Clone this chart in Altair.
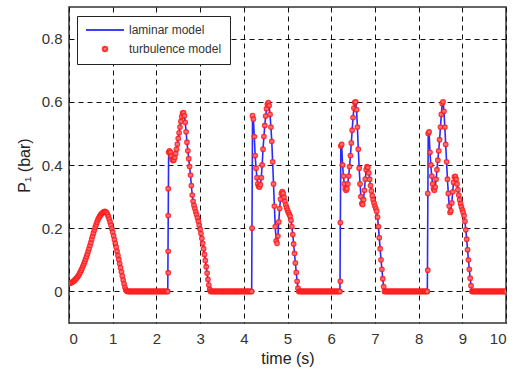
import altair as alt
import numpy as np
import pandas as pd

# ---------------- data ----------------
series_names = ["laminar model", "turbulence model"]
series_colors = ["#2a2aff", "#ff1f1f"]
legend_shapes = ["M-8.5,0H8.5", "circle"]

x_ticks = list(range(0, 11))
y_ticks = [0, 0.2, 0.4, 0.6, 0.8]

dt = 0.02          # sampling step of the simulation output (s)
t_end = 10.0

pulse1_start = 0.00
pulse1 = [0.025, 0.026, 0.027, 0.028, 0.030, 0.032, 0.034, 0.037, 0.040, 0.043,
          0.047, 0.051, 0.056, 0.061, 0.067, 0.073, 0.080, 0.087, 0.094, 0.102,
          0.110, 0.118, 0.127, 0.136, 0.145, 0.155, 0.165, 0.175, 0.185, 0.194,
          0.203, 0.211, 0.219, 0.226, 0.232, 0.237, 0.241, 0.245, 0.248, 0.250,
          0.252, 0.253, 0.252, 0.249, 0.244, 0.237, 0.229, 0.220, 0.210, 0.199,
          0.188, 0.176, 0.164, 0.152, 0.140, 0.127, 0.114, 0.101, 0.088, 0.075,
          0.062, 0.049, 0.036, 0.024, 0.013, 0.005, 0.001, 0.000]

pulse2_start = 2.28
pulse2 = [0.440, 0.445, 0.440, 0.428, 0.418, 0.414, 0.416, 0.424, 0.436, 0.450,
          0.466, 0.484, 0.502, 0.520, 0.538, 0.553, 0.564, 0.566, 0.556, 0.535,
          0.505, 0.472, 0.445, 0.420, 0.395, 0.368, 0.335, 0.305, 0.285, 0.272,
          0.262, 0.252, 0.243, 0.233, 0.222, 0.210, 0.197, 0.183, 0.168, 0.152,
          0.135, 0.117, 0.098, 0.078, 0.058, 0.038, 0.020, 0.006, 0.000]

pulse3_start = 4.20
pulse3 = [0.556, 0.545, 0.490, 0.430, 0.390, 0.360, 0.340, 0.332, 0.330, 0.338,
          0.360, 0.400, 0.450, 0.490, 0.525, 0.555, 0.578, 0.592, 0.597, 0.588,
          0.560, 0.520, 0.475, 0.410, 0.340, 0.270, 0.205, 0.160, 0.152, 0.175,
          0.220, 0.262, 0.292, 0.310, 0.316, 0.310, 0.298, 0.285, 0.274, 0.265,
          0.257, 0.250, 0.244, 0.238, 0.225, 0.205, 0.180, 0.150, 0.120, 0.090,
          0.060, 0.032, 0.010, 0.000]

pulse4_start = 6.22
pulse4 = [0.460, 0.465, 0.400, 0.365, 0.340, 0.325, 0.320, 0.325, 0.340, 0.365,
          0.395, 0.430, 0.470, 0.510, 0.550, 0.580, 0.598, 0.600, 0.575, 0.520,
          0.450, 0.390, 0.340, 0.300, 0.278, 0.275, 0.290, 0.320, 0.355, 0.385,
          0.395, 0.392, 0.375, 0.355, 0.335, 0.318, 0.303, 0.290, 0.280, 0.270,
          0.262, 0.254, 0.235, 0.205, 0.170, 0.135, 0.100, 0.070, 0.040, 0.015,
          0.000]

pulse5_start = 8.22
pulse5 = [0.500, 0.505, 0.440, 0.400, 0.365, 0.340, 0.325, 0.320, 0.330, 0.355,
          0.385, 0.415, 0.445, 0.480, 0.520, 0.560, 0.595, 0.600, 0.570, 0.520,
          0.465, 0.410, 0.355, 0.310, 0.270, 0.250, 0.255, 0.280, 0.315, 0.345,
          0.362, 0.364, 0.355, 0.340, 0.322, 0.305, 0.290, 0.278, 0.268, 0.258,
          0.250, 0.240, 0.222, 0.195, 0.165, 0.132, 0.100, 0.070, 0.042, 0.018,
          0.000]

# turbulence-model samples caught on the steep valve-opening fronts
jump_times = [2.27, 4.19, 6.21, 8.21]
jump_values = [[0.059, 0.127, 0.240, 0.325], [0.200], [0.032, 0.218], [0.067, 0.310]]

# ---------------- build tables ----------------
n = int(round(t_end / dt)) + 1
grid = np.round(np.arange(n) * dt, 4)
vals = np.zeros(n)  # flat parts of the trace sit at 0 bar
for start, seg in [(pulse1_start, pulse1), (pulse2_start, pulse2), (pulse3_start, pulse3),
                   (pulse4_start, pulse4), (pulse5_start, pulse5)]:
    i0 = int(round(start / dt))
    vals[i0:i0 + len(seg)] = seg

lam_df = pd.DataFrame({"t": grid, "p": vals, "series": series_names[0]})

jt, jv = [], []
for tj, vs in zip(jump_times, jump_values):
    for v in vs:
        jt.append(tj)
        jv.append(v)
turb_df = pd.DataFrame({"t": np.concatenate([grid, jt]),
                        "p": np.concatenate([vals, jv]),
                        "series": series_names[1]})

# ---------------- encodings ----------------
FONT = "Liberation Sans"

x_enc = alt.X("t:Q",
              scale=alt.Scale(domain=[0, 10], nice=False, zero=False),
              axis=alt.Axis(values=x_ticks, format="d", title="time (s)",
                            labelPadding=8, titlePadding=4))
y_enc = alt.Y("p:Q",
              scale=alt.Scale(domain=[-0.1, 0.9], nice=False, zero=False),
              axis=alt.Axis(values=y_ticks, format="~g", title="P₁ (bar)",
                            labelPadding=7, titlePadding=9))

legend = alt.Legend(title=None, orient="none", legendX=8, legendY=9,
                    strokeColor="#222", fillColor="white", padding=8,
                    labelFont=FONT, labelFontSize=12, labelColor="#333",
                    symbolStrokeWidth=2, symbolSize=20, rowPadding=6,
                    symbolOffset=14, labelOffset=18)

color_enc = alt.Color("series:N",
                      scale=alt.Scale(domain=series_names, range=series_colors),
                      legend=legend)
shape_enc = alt.Shape("series:N",
                      scale=alt.Scale(domain=series_names, range=legend_shapes),
                      legend=legend)

line = alt.Chart(lam_df).mark_line(strokeWidth=1.6, clip=True).encode(
    x=x_enc, y=y_enc, color=color_enc, order="t:Q")

points = alt.Chart(turb_df).mark_point(
    filled=False, size=20, strokeWidth=1.3, opacity=0.9, fill="#ff7070", clip=True
).encode(x=x_enc, y=y_enc, color=color_enc, shape=shape_enc)

chart = alt.layer(line, points).properties(
    width=437, height=316,
    autosize=alt.AutoSizeParams(type="none"),
    padding={"left": 69, "top": 7, "right": 9, "bottom": 49},
    background="white",
).configure_view(
    stroke="#333", strokeWidth=1.5
).configure_axis(
    labelFont=FONT, labelFontSize=15, labelColor="#333",
    titleFont=FONT, titleFontSize=16, titleFontWeight="normal", titleColor="#222",
    domain=False, ticks=False,
    grid=True, gridColor="#111", gridDash=[5, 4], gridWidth=1, gridOpacity=1,
)

chart.save("out.html", embed_options={"renderer": "svg", "actions": False})
